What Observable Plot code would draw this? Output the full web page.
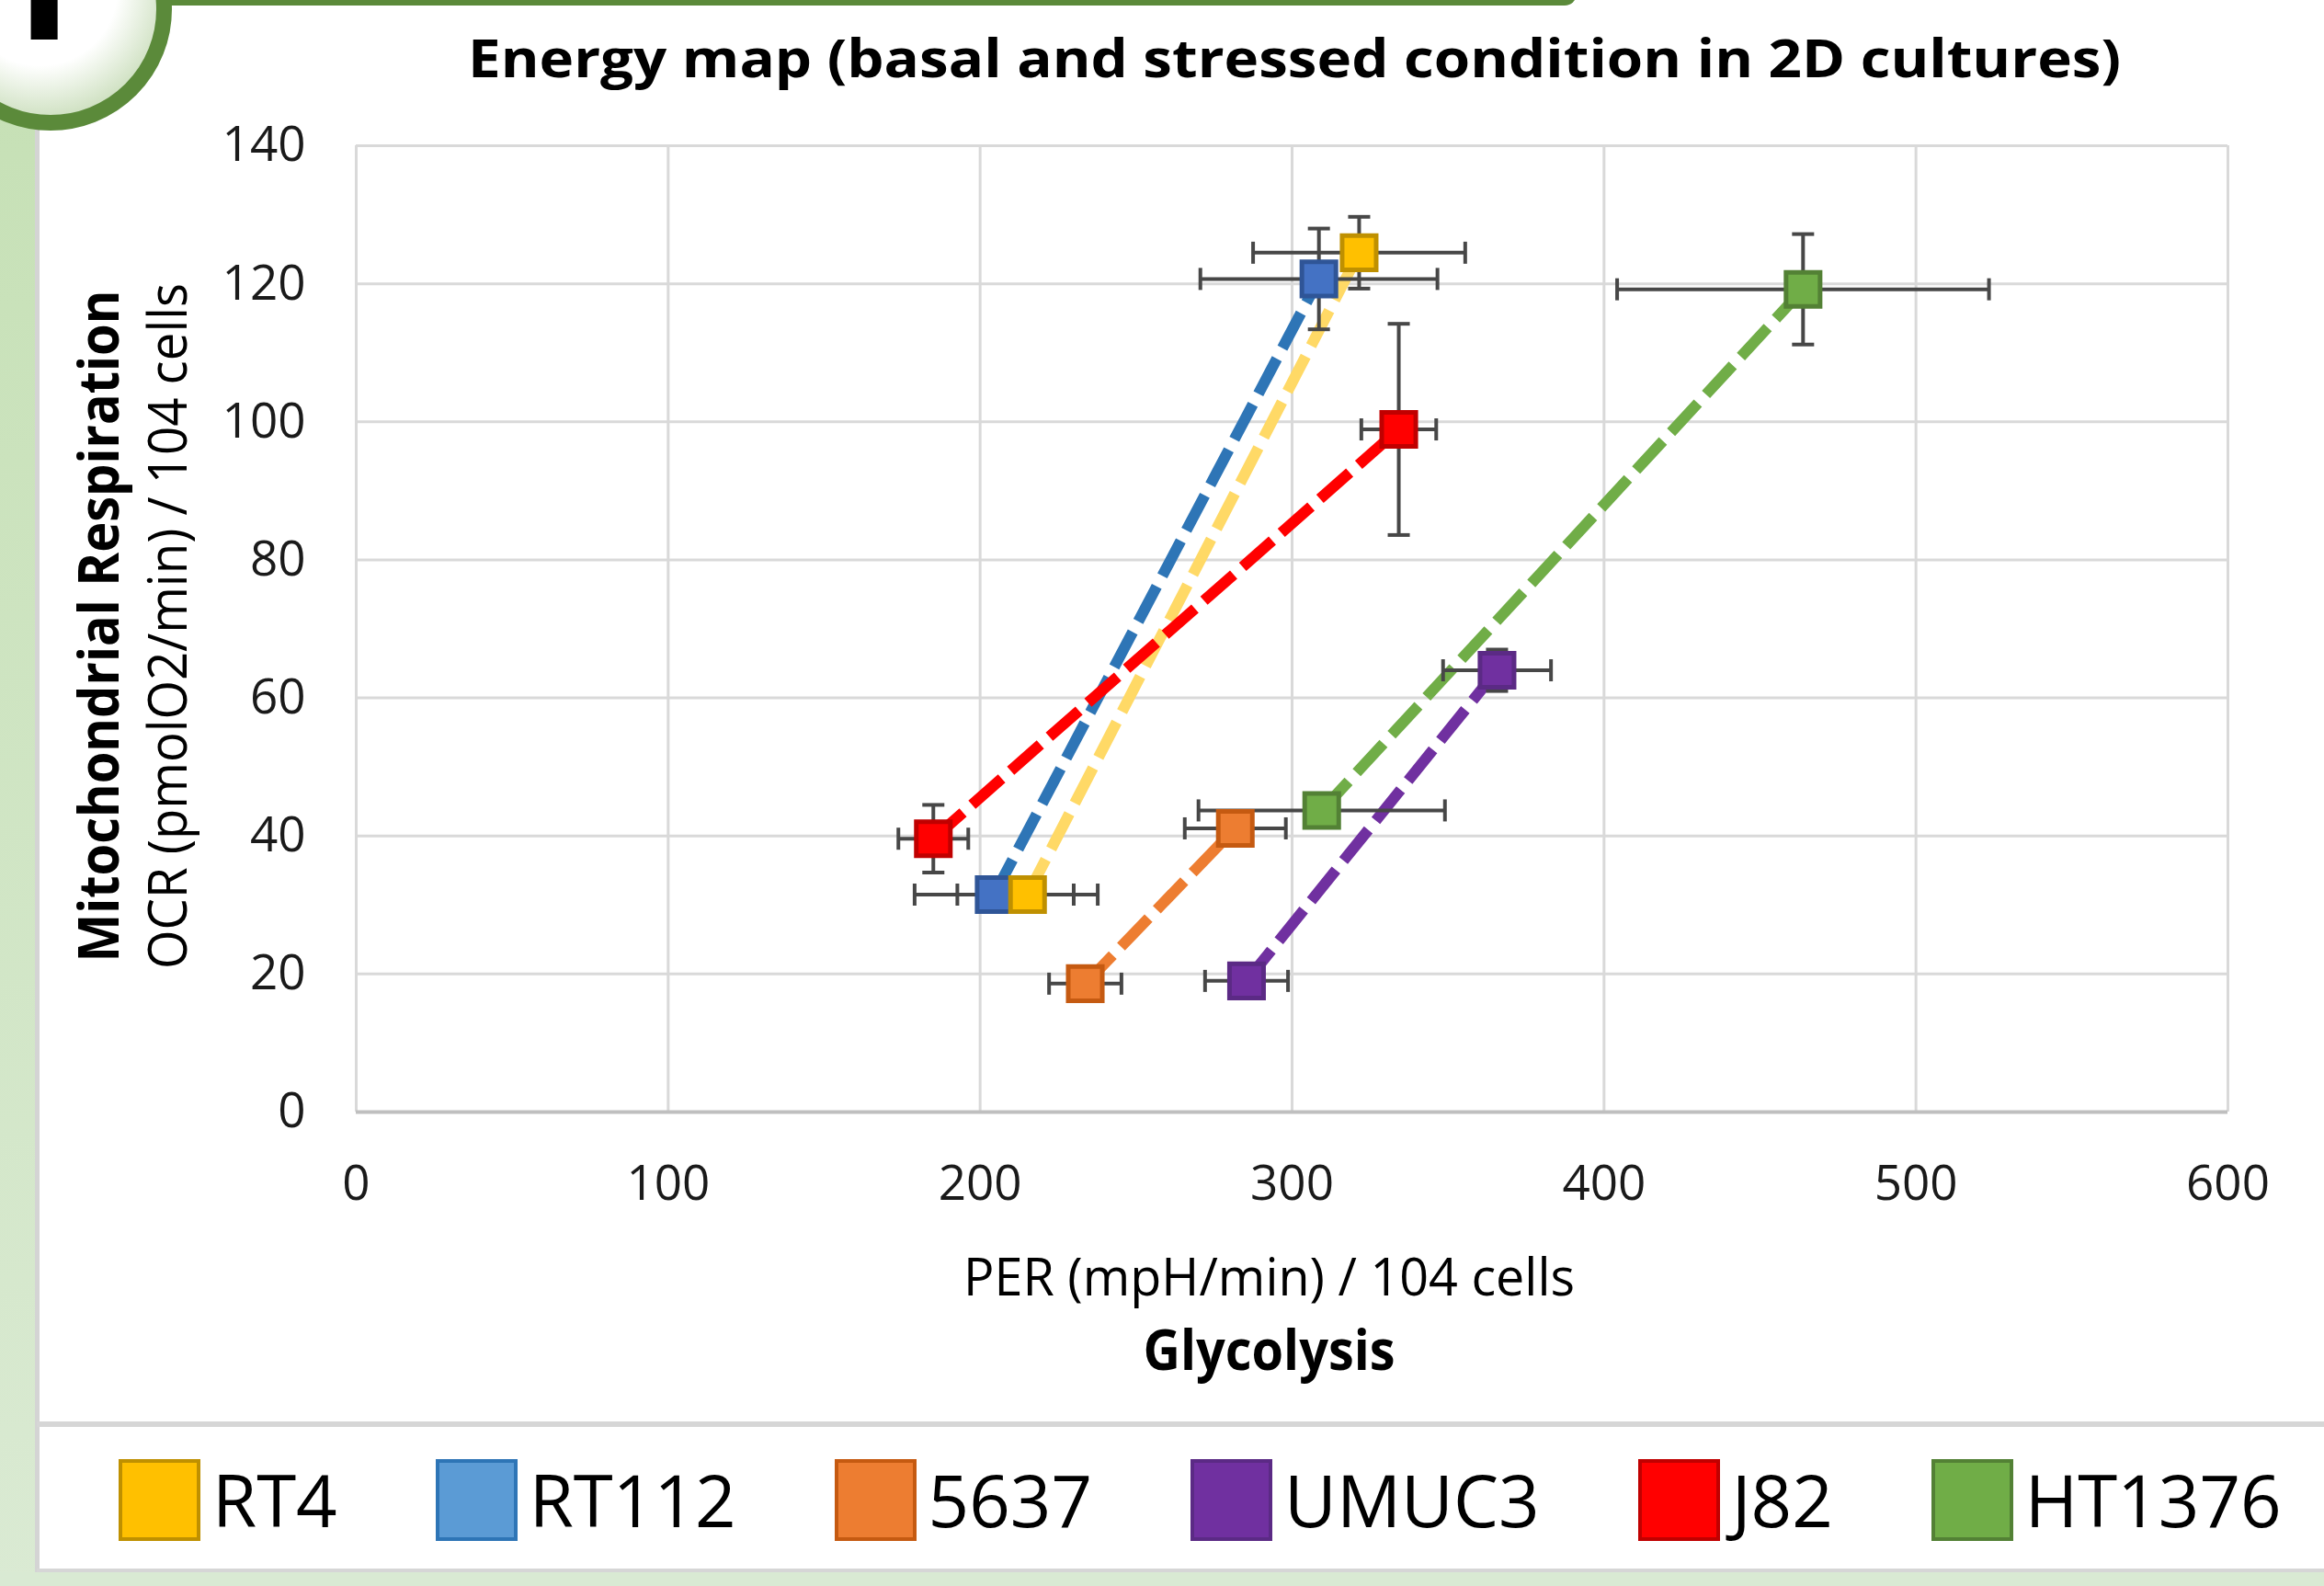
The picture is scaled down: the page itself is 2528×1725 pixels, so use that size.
<!DOCTYPE html>
<html>
<head>
<meta charset="utf-8">
<script src="https://cdn.jsdelivr.net/npm/d3@7"></script>
<script src="https://cdn.jsdelivr.net/npm/@observablehq/plot@0.6"></script>
<style>
  html, body { margin: 0; padding: 0; background: #fff; }
  #page { position: relative; width: 2528px; height: 1725px; overflow: hidden; background: #fff; font-family: "Open Sans", sans-serif; }
  .abs { position: absolute; }
  #strip { left: 0; top: 0; width: 38px; height: 1725px; background: linear-gradient(#C5E0B4, #DAEAD3); }
  #stripEdge { left: 38px; top: 0; width: 5px; height: 1710px; background: #D4D4D4; }
  #bottomStrip { left: 0; top: 1710px; width: 2528px; height: 15px; background: #D9EAD3; }
  #legTop { left: 40px; top: 1546px; width: 2488px; height: 6px; background: #D6D6D6; }
  #legBottom { left: 40px; top: 1706px; width: 2488px; height: 4px; background: #D6D6D6; }
  #tab { left: 100px; top: -20px; width: 1615px; height: 26px; background: #5B8A3A; border-radius: 14px; }
  #badge { left: -77px; top: -122px; width: 230px; height: 230px; border-radius: 50%; border: 17px solid #5B8A3A;
           background: radial-gradient(circle at 45% 40%, #ffffff 45%, #a9c991 100%); box-sizing: content-box; }
  #badgeLetter { left: 22px; top: -90px; font-family: "Open Sans", sans-serif; font-weight: 800; font-size: 150px; line-height: 1; color: #000; }
  #title { left: 1408px; top: 34px; white-space: nowrap; font-family: "Open Sans", sans-serif; font-weight: 700; font-size: 57px; line-height: 1; color: #000; transform-origin: 0 0; }
  #chart { left: 0; top: 130px; }
  #legend { left: 129px; top: 1578px; width: 2600px; }
  #legend .leg-swatches { font-family: "Open Sans", sans-serif; font-size: 78px; color: #000; margin: 0; }
  #legend .leg-swatches-wrap { flex-wrap: nowrap; }
  #legend .leg-swatches-wrap .leg-swatch { margin-right: 107px; white-space: nowrap; }
  #legend .leg-swatch > svg { margin-right: 13px; }
</style>
</head>
<body>
<div id="page">
  <div id="strip" class="abs"></div>
  <div id="stripEdge" class="abs"></div>
  <div id="bottomStrip" class="abs"></div>
  <div id="tab" class="abs"></div>
  <div id="badge" class="abs"></div>
  <div id="badgeLetter" class="abs">I</div>
  <div id="title" class="abs">Energy map (basal and stressed condition in 2D cultures)</div>
  <div id="chart" class="abs"></div>
  <div id="legTop" class="abs"></div>
  <div id="legBottom" class="abs"></div>
  <div id="legend" class="abs"></div>
</div>
<script>
// ---- data ----
const cellLines = ["RT4", "RT112", "5637", "UMUC3", "J82", "HT1376"];
const basalPER = [215.2, 204.5, 233.7, 285.4, 185.0, 309.5];
const basalOCR = [31.5, 31.5, 18.6, 19.0, 39.6, 43.7];
const basalPERerr = [22.5, 25.5, 11.6, 13.3, 11.2, 39.5];
const basalOCRerr = [2, 2, 2, 2, 4.9, 2];
const stressedPER = [321.5, 308.6, 281.8, 365.7, 334.2, 463.8];
const stressedOCR = [124.5, 120.7, 41.1, 64.0, 98.9, 119.2];
const stressedPERerr = [34, 38, 16.2, 17.3, 12, 59.6];
const stressedOCRerr = [5.2, 7.3, 2, 3, 15.3, 8];
const xTicks = [0, 100, 200, 300, 400, 500, 600];
const yTicks = [0, 20, 40, 60, 80, 100, 120, 140];
const lineColors = ["#FFD966", "#2E75B6", "#ED7D31", "#7030A0", "#FF0000", "#70AD47"];
const markerFills = ["#FFC000", "#4472C4", "#ED7D31", "#7030A0", "#FF0000", "#70AD47"];
const markerStrokes = ["#BF9000", "#2F5597", "#C55A11", "#5B2A85", "#C00000", "#538135"];
const legendFills = ["#FFC000", "#5B9BD5", "#ED7D31", "#7030A0", "#FF0000", "#70AD47"];
const legendStrokes = ["#BF9000", "#2E75B6", "#C55A11", "#5B2A85", "#C00000", "#538135"];
const titleText = "Energy map (basal and stressed condition in 2D cultures)";
const yTitle = "Mitochondrial Respiration";
const yUnit = "OCR (pmolO2/min) / 104 cells";
const xUnit = "PER (mpH/min) / 104 cells";
const xTitle = "Glycolysis";

// ---- derived tables ----
const segments = cellLines.map((name, i) => ({
  name, bx: basalPER[i], by: basalOCR[i], sx: stressedPER[i], sy: stressedOCR[i], color: lineColors[i]
}));
const points = [];
cellLines.forEach((name, i) => {
  points.push({name, x: basalPER[i], y: basalOCR[i], xe: basalPERerr[i], ye: basalOCRerr[i], fill: markerFills[i], stroke: markerStrokes[i], order: i});
  points.push({name, x: stressedPER[i], y: stressedOCR[i], xe: stressedPERerr[i], ye: stressedOCRerr[i], fill: markerFills[i], stroke: markerStrokes[i], order: i});
});
const markerOrder = points.slice().sort((a, b) => b.order - a.order);

const vCap = {draw(ctx) { ctx.moveTo(0, -12); ctx.lineTo(0, 12); }};
const hCap = {draw(ctx) { ctx.moveTo(-12, 0); ctx.lineTo(12, 0); }};
const errColor = "#474747";

const plot = Plot.plot({
  width: 2528,
  height: 1418,
  marginLeft: 387,
  marginRight: 105,
  marginTop: 28,
  marginBottom: 339,
  x: {domain: [0, 600]},
  y: {domain: [0, 140]},
  style: {fontFamily: "Open Sans, sans-serif", background: "transparent", color: "#1a1a1a", overflow: "visible"},
  marks: [
    Plot.gridX(xTicks, {stroke: "#D9D9D9", strokeOpacity: 1, strokeWidth: 3}),
    Plot.gridY(yTicks, {stroke: "#D9D9D9", strokeOpacity: 1, strokeWidth: 3}),
    Plot.ruleY([0], {stroke: "#BFBFBF", strokeWidth: 4}),
    Plot.axisX(xTicks, {tickSize: 0, tickPadding: 58, fontSize: 53, label: null}),
    Plot.axisY(yTicks, {tickSize: 0, tickPadding: 55, fontSize: 53, label: null}),
    Plot.text([yTitle], {frameAnchor: "left", textAnchor: "middle", lineAnchor: "middle", dx: -278, dy: -3, rotate: -90, fontSize: 60, fontWeight: 700, fill: "#000"}),
    Plot.text([yUnit], {frameAnchor: "left", textAnchor: "middle", lineAnchor: "middle", dx: -203, dy: -3, rotate: -90, fontSize: 58, fill: "#000"}),
    Plot.text([xUnit], {frameAnchor: "bottom", textAnchor: "middle", dx: -25, dy: 199, fontSize: 56, fill: "#000"}),
    Plot.text([xTitle], {frameAnchor: "bottom", textAnchor: "middle", dx: -25, dy: 280, fontSize: 61, fontWeight: 700, fill: "#000"}),
    Plot.link(segments, {x1: "bx", y1: "by", x2: "sx", y2: "sy", stroke: d => d.color, strokeWidth: 12, strokeDasharray: "43,13", strokeLinecap: "butt"}),
    Plot.ruleY(points, {y: "y", x1: d => d.x - d.xe, x2: d => d.x + d.xe, stroke: errColor, strokeWidth: 4}),
    Plot.ruleX(points, {x: "x", y1: d => d.y - d.ye, y2: d => d.y + d.ye, stroke: errColor, strokeWidth: 4}),
    Plot.dot(points, {x: d => d.x - d.xe, y: "y", symbol: vCap, r: 5, fill: "none", stroke: errColor, strokeWidth: 4}),
    Plot.dot(points, {x: d => d.x + d.xe, y: "y", symbol: vCap, r: 5, fill: "none", stroke: errColor, strokeWidth: 4}),
    Plot.dot(points, {x: "x", y: d => d.y - d.ye, symbol: hCap, r: 5, fill: "none", stroke: errColor, strokeWidth: 4}),
    Plot.dot(points, {x: "x", y: d => d.y + d.ye, symbol: hCap, r: 5, fill: "none", stroke: errColor, strokeWidth: 4}),
    Plot.dot(markerOrder, {x: "x", y: "y", symbol: "square", r: 20.9, fill: d => d.fill, stroke: d => d.stroke, strokeWidth: 5})
  ]
});

const fitLengths = new Map([[yTitle, 731], [yUnit, 746], [xUnit, 665], [xTitle, 274]]);
plot.querySelectorAll("text").forEach(t => {
  const L = fitLengths.get(t.textContent);
  if (L) { t.setAttribute("textLength", L); t.setAttribute("lengthAdjust", "spacingAndGlyphs"); }
});
document.getElementById("chart").appendChild(plot);

// title fitted to its width in the reference
const titleEl = document.getElementById("title");
titleEl.textContent = titleText;
const tw = titleEl.getBoundingClientRect().width;
const targetW = 1798;
titleEl.style.transform = `translateX(${-targetW / 2}px) scaleX(${targetW / tw})`;

// legend
const legend = Plot.legend({
  color: {type: "ordinal", domain: cellLines, range: legendFills},
  legend: "swatches",
  swatchSize: 89,
  className: "leg"
});
d3.select(legend).selectAll("svg rect").each(function(d, i) {
  d3.select(this).attr("stroke", legendStrokes[i % legendStrokes.length]).attr("stroke-width", 4)
    .attr("x", 2).attr("y", 2).attr("width", 85).attr("height", 85);
});
document.getElementById("legend").appendChild(legend);
</script>
</body>
</html>
